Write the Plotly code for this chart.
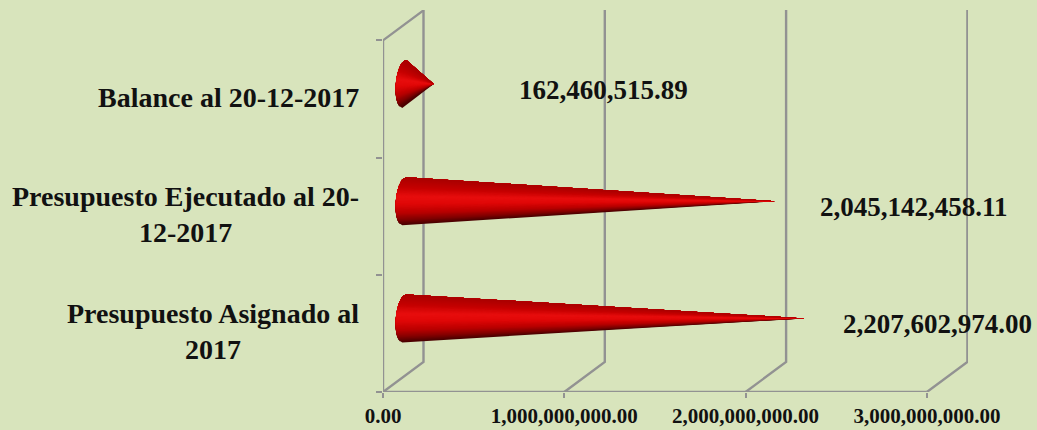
import numpy as np
import plotly.graph_objects as go

categories = ["Presupuesto Asignado al<br>2017",
              "Presupuesto Ejecutado al 20-<br>12-2017",
              "Balance al 20-12-2017"]
values = [2207602974.00, 2045142458.11, 162460515.89]
value_labels = ["2,207,602,974.00", "2,045,142,458.11", "162,460,515.89"]
x_ticks = [0, 1e9, 2e9, 3e9]
y_ticks = [0, 1, 2, 3]

W, H = 1037, 430
L, R, T, B = 383, 968, 10, 392
PX = 181.3 / 1e9        # pixels per unit on x
PY = 117.2              # pixels per band on y
DX = 40.5 / PX          # depth of the 3-D box
DY = 30 / PY
TOP = (B - T) / PY
GRID = "#929292"
BG = "#D8E4BC"
FONT = "Liberation Serif"

stops_v = [-1.0, -0.8, -0.5, -0.1, 0.2, 0.6, 1.0]
stops_r = [70, 125, 185, 225, 232, 195, 170]
stops_g = [0, 0, 0, 8, 14, 0, 0]
stops_b = [0, 0, 0, 8, 14, 0, 0]

fig = go.Figure()

def line(xs, ys):
    fig.add_trace(go.Scatter(x=xs, y=ys, mode="lines", cliponaxis=False, hoverinfo="skip",
                             showlegend=False, line=dict(color=GRID, width=2.4)))

for t in x_ticks:
    line([t, t + DX, t + DX], [0, DY, TOP])
line([x_ticks[0], x_ticks[-1]], [0, 0])
line([0, 0, DX], [0, y_ticks[-1], y_ticks[-1] + DY])

half_h = 24 / PY
base_w = 8.5 / PX
n = 40
edges = np.linspace(-1, 1, n + 1)
for cat_i, val in enumerate(values):
    cy = cat_i + 0.5 + DY / 2
    cx = DX / 2 + 1 / PX
    # painted bottom to top, each layer covering everything above its lower edge,
    # so neighbouring colour bands never show a seam
    for i, a in enumerate(edges[:-1]):
        m = a + (edges[1] - edges[0]) / 2
        col = "rgb(%d,%d,%d)" % (np.interp(m, stops_v, stops_r),
                                 np.interp(m, stops_v, stops_g),
                                 np.interp(m, stops_v, stops_b))
        rim = edges[i:]
        xs = cx - base_w * np.sqrt(np.clip(1 - rim * rim, 0, 1)) + 2 / PX * rim
        ys = cy + half_h * rim
        fig.add_trace(go.Scatter(
            x=list(xs) + [cx + val], y=list(ys) + [cy],
            mode="lines", fill="toself", fillcolor=col, cliponaxis=False,
            line=dict(width=0), hoverinfo="skip", showlegend=False))

label_shift = [59, 65, 106]
for i, (val, lab, sh) in enumerate(zip(values, value_labels, label_shift)):
    fig.add_annotation(x=val, y=i + 0.5, xref="x", yref="y", text="<b>%s</b>" % lab,
                       showarrow=False, xanchor="left", yanchor="middle", xshift=sh, yshift=9,
                       borderpad=0, font=dict(family=FONT, size=27, color="#111111"))
for i, cat in enumerate(categories):
    fig.add_annotation(x=0, y=i + 0.5, xref="paper", yref="y", text="<b>%s</b>" % cat,
                       showarrow=False, xanchor="right", yanchor="middle", align="center",
                       xshift=-23, yshift=2, borderpad=0,
                       font=dict(family=FONT, size=28, color="#111111"))

fig.update_layout(
    width=W, height=H, autosize=False,
    margin=dict(l=L, r=W - R, t=T, b=H - B, pad=0),
    paper_bgcolor=BG, plot_bgcolor=BG, showlegend=False,
    xaxis=dict(range=[0, (R - L) / PX], tickmode="array", tickvals=x_ticks, tickformat=",.2f",
               automargin=False,
               showgrid=False, zeroline=False, showline=False, ticks="outside", ticklen=5,
               tickwidth=2.4, tickcolor=GRID,
               tickfont=dict(family=FONT, size=21, color="#111111", weight="bold")),
    yaxis=dict(range=[0, TOP], tickmode="array", tickvals=y_ticks, showticklabels=False,
               automargin=False,
               showgrid=False, zeroline=False, showline=False, ticks="outside", ticklen=6,
               tickwidth=2.4, tickcolor=GRID),
)
fig.write_html("out.html", post_script="document.body.style.margin='0';document.body.style.overflow='hidden';",
               config={"displayModeBar": False})
